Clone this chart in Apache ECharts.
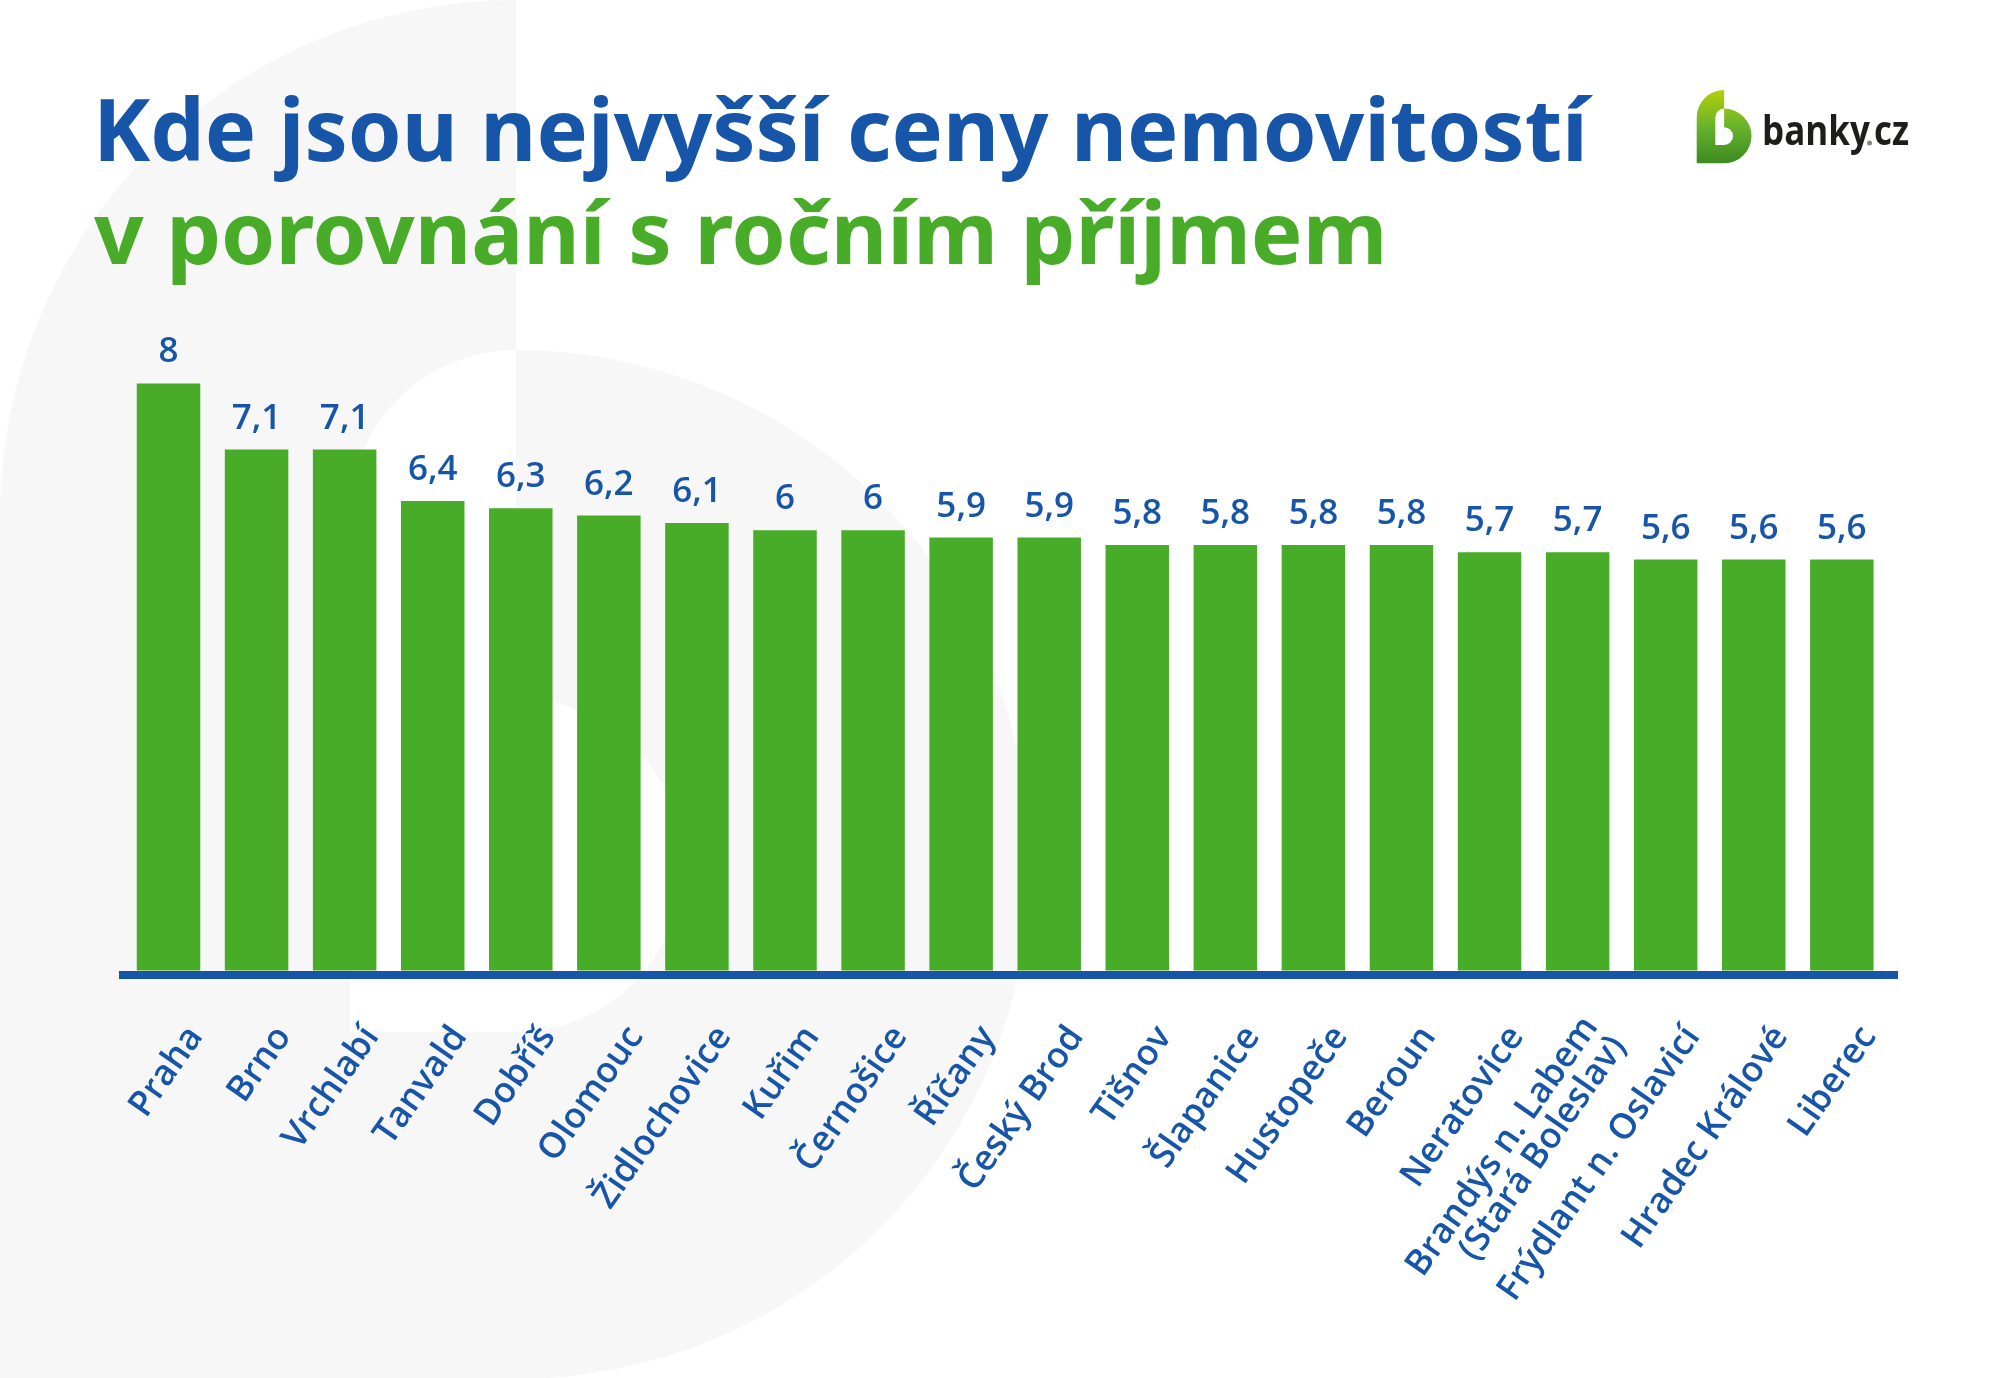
<!DOCTYPE html>
<html><head><meta charset="utf-8">
<style>html,body{margin:0;padding:0;background:#fff}#c{width:2000px;height:1378px}</style>
<script src="https://cdn.jsdelivr.net/npm/echarts@6/dist/echarts.min.js"></script>
</head><body><div id="c"></div>
<script>
const categories = ['Praha','Brno','Vrchlabí','Tanvald','Dobříš','Olomouc','Židlochovice','Kuřim','Černošice','Říčany','Český Brod','Tišnov','Šlapanice','Hustopeče','Beroun','Neratovice','Brandýs n. Labem\n(Stará Boleslav)','Frýdlant n. Oslavicí','Hradec Králové','Liberec'];
const values = [8,7.1,7.1,6.4,6.3,6.2,6.1,6,6,5.9,5.9,5.8,5.8,5.8,5.8,5.7,5.7,5.6,5.6,5.6];
const titleLine1 = 'Kde jsou nejvyšší ceny nemovitostí';
const titleLine2 = 'v porovnání s ročním příjmem';
const BLUE = '#1655A8', GREEN = '#48AC29', FONT = '"Open Sans"', TFONT = '"Noto Sans"';
const bShape = 'M0 1378 L0 516 A516 516 0 0 1 516 0 L516 350 A514.5 514.5 0 0 1 516 1379 L0 1378 Z ' +
               'M516 350 A166 166 0 0 0 350 516 L350 1032 L516 1032 A167 167 0 0 0 516 698 Z';
echarts.graphic.registerShape('bshape', echarts.graphic.extendPath(bShape, {}));
const LOGO = 73.3 / 1378;
const chart = echarts.init(document.getElementById('c'), null, {renderer:'canvas', width:2000, height:1378});
chart.setOption({
  backgroundColor:'#fff', animation:false,
  title:[
    {text:titleLine1,left:88,top:88,textStyle:{color:BLUE,fontFamily:TFONT,fontWeight:700,fontSize:86.3}},
    {text:titleLine2,left:89,top:191,textStyle:{color:GREEN,fontFamily:TFONT,fontWeight:700,fontSize:86.9}}
  ],
  graphic:[
    {type:'bshape',z:0,silent:true,style:{fill:'#F7F7F7'}},
    {type:'bshape',z:1,silent:true,x:1696.7,y:90,scaleX:LOGO,scaleY:LOGO,
      style:{fill:new echarts.graphic.LinearGradient(0,0,0,1,[{offset:0,color:'#B4CF0A'},{offset:.5,color:'#68B32C'},{offset:1,color:'#3C8A22'}])}},
    {type:'text',z:1,x:1762,y:154,scaleY:1.15,silent:true,style:{text:'banky',fill:'#1D1D1B',font:'700 35px "Open Sans"',verticalAlign:'bottom'}},
    {type:'circle',z:1,silent:true,shape:{cx:1869.5,cy:143,r:2.5},style:{fill:'#888'}},
    {type:'text',z:1,x:1874,y:154,scaleY:1.15,silent:true,style:{text:'cz',fill:'#1D1D1B',font:'700 35px "Open Sans"',verticalAlign:'bottom'}}
  ],
  grid:[
    {left:124.47,width:1761.4,top:383.5,height:587},
    {left:119,width:1779,top:383.5,height:587},
    {left:124.47+27,width:1761.4,top:383.5,height:587}
  ],
  xAxis:[
    {type:'category',gridIndex:0,data:categories,axisLine:{show:false},axisTick:{show:false},axisLabel:{show:false}},
    {type:'value',gridIndex:1,min:0,max:1,axisLine:{show:true,onZero:false,lineStyle:{color:BLUE,width:8,cap:'butt'}},offset:4,axisTick:{show:false},axisLabel:{show:false},splitLine:{show:false}},
    {type:'category',gridIndex:2,data:categories,axisLine:{show:false},axisTick:{show:false},
     axisLabel:{interval:0,rotate:55,margin:60,color:BLUE,fontFamily:FONT,fontWeight:600,fontSize:35.5,lineHeight:34,align:'right'}}
  ],
  yAxis:[0,1,2].map(i=>({type:'value',gridIndex:i,min:0,max:8,show:false,splitLine:{show:false}})),
  series:[{
    type:'bar',xAxisIndex:0,yAxisIndex:0,data:values,barWidth:63.5,
    itemStyle:{color:GREEN},
    label:{show:true,position:'top',distance:13.5,color:BLUE,fontFamily:FONT,fontWeight:600,fontSize:35,
      formatter:p=>String(p.value).replace('.',',')}
  }]
});
</script></body></html>
